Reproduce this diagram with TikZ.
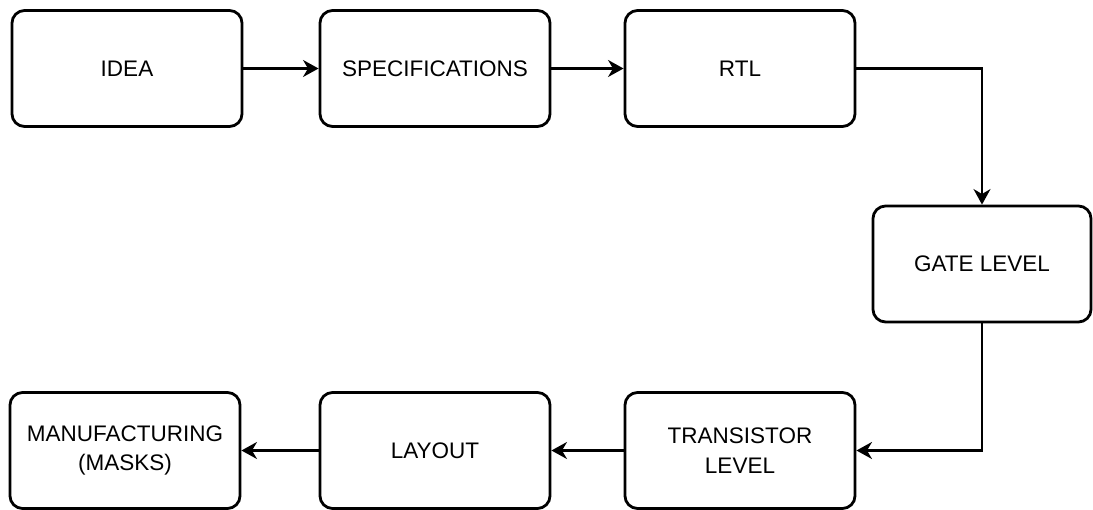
\documentclass[tikz,border=0pt]{standalone}
\usepackage{fontspec}
\setmainfont{Liberation Sans}
\usetikzlibrary{calc, positioning, arrows.meta}

\begin{document}
\begin{tikzpicture}[x=0.025cm, y=-0.025cm,
    stage/.style={draw, line width=2pt, rounded corners=9pt, align=center,
      minimum width=5.75cm, minimum height=2.9cm, inner sep=0pt,
      font=\fontsize{16}{21}\selectfont},
    flow/.style={line width=2pt, -{Stealth[length=11pt, width=12pt, inset=3.5pt]}}]
    % Canvas
    \useasboundingbox (0,0) rectangle (1093,510);

    % Top row
    \node[stage] (idea) at (127,68.5) {IDEA};
    \node[stage] (spec) at (435,68.5) {SPECIFICATIONS};
    \node[stage] (rtl) at (740,68.5) {RTL};

    % Right column
    \node[stage, minimum width=5.45cm] (gate) at (982,264) {GATE LEVEL};

    % Bottom row
    \node[stage] (trans) at (740,450.5) {TRANSISTOR\\LEVEL};
    \node[stage] (layout) at (435,450.5) {LAYOUT};
    \node[stage] (manu) at (125,450.5) {MANUFACTURING\\(MASKS)};

    % Connectors
    \draw[flow] (idea) -- (spec);
    \draw[flow] (spec) -- (rtl);
    \draw[flow] (rtl.east) -| (gate.north);
    \draw[flow] (gate.south) |- (trans.east);
    \draw[flow] (trans) -- (layout);
    \draw[flow] (layout) -- (manu);
  \end{tikzpicture}
\end{document}
